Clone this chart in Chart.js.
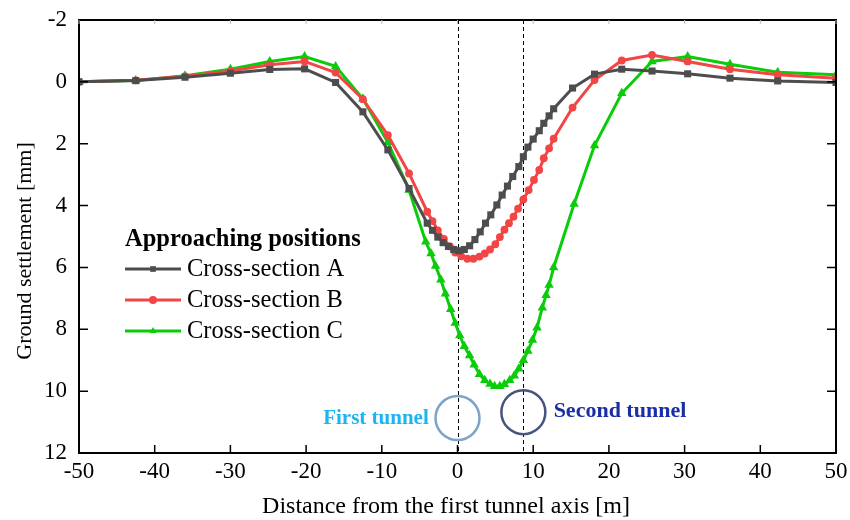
<!DOCTYPE html>
<html lang="en">
<head>
    <meta charset="UTF-8">
    <title>Ground settlement</title>
    <script src="https://cdn.jsdelivr.net/npm/chart.js@4.4.1/dist/chart.umd.min.js"></script>
    <style>
        body { margin: 0; background: #fff; }
        #wrap { width: 850px; height: 520px; }
    </style>
</head>
<body>
    <div id="wrap"><canvas id="settleChart" width="850" height="520"></canvas></div>

    <script>
        // distance from first tunnel axis [m] and settlement [mm] per cross-section
        const xA = [-50, -42.5, -36, -30, -24.8, -20.2, -16.1, -12.5, -9.2, -6.4, -4.0, -3.3, -2.6, -1.9, -1.2, -0.5, 0.2, 0.9, 1.6, 2.3, 3.0, 3.7, 4.4, 5.2, 5.9, 6.6, 7.3, 8.1, 8.7, 9.3, 10.0, 10.8, 11.4, 12.1, 12.7, 15.2, 18.1, 21.7, 25.7, 30.4, 36, 42.3, 50];
        const yA = [0.0, -0.04, -0.15, -0.28, -0.4, -0.42, 0.02, 0.97, 2.2, 3.45, 4.57, 4.8, 5.02, 5.2, 5.32, 5.42, 5.46, 5.42, 5.3, 5.1, 4.85, 4.57, 4.3, 3.98, 3.66, 3.37, 3.06, 2.74, 2.42, 2.11, 1.85, 1.58, 1.34, 1.1, 0.87, 0.2, -0.25, -0.41, -0.35, -0.26, -0.12, -0.03, 0.02];

        const xB = [-50, -42.5, -36, -30, -24.8, -20.2, -16.1, -12.5, -9.2, -6.4, -4.0, -3.3, -2.6, -1.8, -1.0, -0.3, 0.5, 1.3, 2.1, 2.9, 3.6, 4.3, 5.0, 5.6, 6.2, 6.8, 7.4, 8.0, 8.7, 9.4, 10.1, 10.8, 11.4, 12.1, 12.7, 15.2, 18.1, 21.7, 25.7, 30.4, 36, 42.3, 50];
        const yB = [0.0, -0.05, -0.18, -0.35, -0.55, -0.66, -0.3, 0.56, 1.72, 2.96, 4.2, 4.5, 4.8, 5.08, 5.32, 5.52, 5.64, 5.72, 5.72, 5.65, 5.55, 5.42, 5.25, 5.02, 4.78, 4.57, 4.36, 4.1, 3.8, 3.5, 3.17, 2.85, 2.47, 2.15, 1.84, 0.83, -0.06, -0.69, -0.87, -0.66, -0.41, -0.23, -0.12];

        const xC = [-50, -42.5, -36, -30, -24.8, -20.2, -16.1, -12.5, -9.2, -6.4, -4.2, -3.5, -2.9, -2.2, -1.6, -0.9, -0.3, 0.3, 0.9, 1.6, 2.2, 2.9, 3.6, 4.3, 4.9, 5.6, 6.2, 6.9, 7.5, 8.1, 8.7, 9.3, 9.9, 10.5, 11.2, 11.7, 12.1, 12.7, 15.4, 18.1, 21.7, 25.7, 30.4, 36, 42.3, 50];
        const yC = [0.0, -0.04, -0.2, -0.41, -0.66, -0.82, -0.5, 0.55, 1.95, 3.5, 5.17, 5.55, 5.95, 6.4, 6.85, 7.35, 7.8, 8.2, 8.55, 8.85, 9.15, 9.45, 9.65, 9.77, 9.84, 9.84, 9.78, 9.65, 9.5, 9.28, 9.0, 8.7, 8.35, 7.95, 7.3, 6.9, 6.57, 6.0, 3.95, 2.06, 0.37, -0.66, -0.82, -0.57, -0.31, -0.23];

        const seriesNames = ['Cross-section A', 'Cross-section B', 'Cross-section C'];
        const seriesColors = ['#4d4d4d', '#f24545', '#0acc0a'];
        const xTicks = [-50, -40, -30, -20, -10, 0, 10, 20, 30, 40, 50];
        const yTicks = [-2, 0, 2, 4, 6, 8, 10, 12];
        const tunnelAxes = [0, 8.7];

        const serif = '"Liberation Serif", "DejaVu Serif", serif';

        function toPoints(xs, ys) {
            return xs.map((x, i) => ({ x: x, y: ys[i] }));
        }

        // frame, inward ticks, axis titles, tunnel axes, circles and legend
        const decor = {
            id: 'decor',
            beforeDatasetsDraw(chart) {
                const { ctx, chartArea: a, scales: { x } } = chart;
                ctx.save();
                ctx.strokeStyle = '#000';
                ctx.lineWidth = 1;
                ctx.setLineDash([4, 3]);
                tunnelAxes.forEach(v => {
                    const px = Math.round(x.getPixelForValue(v)) + 0.5;
                    ctx.beginPath();
                    ctx.moveTo(px, a.top);
                    ctx.lineTo(px, a.bottom);
                    ctx.stroke();
                });
                ctx.restore();
            },
            afterDatasetsDraw(chart) {
                const { ctx, chartArea: a, scales: { x, y } } = chart;
                ctx.save();

                // tunnel circles
                ctx.lineWidth = 2.5;
                ctx.strokeStyle = '#7ea3c9';
                ctx.beginPath();
                ctx.arc(x.getPixelForValue(0), y.getPixelForValue(10.87), 22, 0, Math.PI * 2);
                ctx.stroke();
                ctx.strokeStyle = '#47557e';
                ctx.beginPath();
                ctx.arc(x.getPixelForValue(8.7), y.getPixelForValue(10.68), 22, 0, Math.PI * 2);
                ctx.stroke();

                ctx.textBaseline = 'middle';
                ctx.font = 'bold 21px ' + serif;
                ctx.fillStyle = '#1cb4f2';
                ctx.textAlign = 'right';
                ctx.fillText('First tunnel', x.getPixelForValue(-3.8), y.getPixelForValue(10.9));
                ctx.font = 'bold 22px ' + serif;
                ctx.fillStyle = '#1a2ea6';
                ctx.textAlign = 'left';
                ctx.fillText('Second tunnel', x.getPixelForValue(12.7), y.getPixelForValue(10.65));

                // frame
                ctx.strokeStyle = '#000';
                ctx.lineWidth = 2;
                ctx.strokeRect(a.left, a.top, a.right - a.left, a.bottom - a.top);

                // inward ticks
                ctx.lineWidth = 1.5;
                ctx.beginPath();
                xTicks.forEach(v => {
                    const px = x.getPixelForValue(v);
                    ctx.moveTo(px, a.bottom);
                    ctx.lineTo(px, a.bottom - 8);
                });
                yTicks.forEach(v => {
                    const py = y.getPixelForValue(v);
                    ctx.moveTo(a.left, py);
                    ctx.lineTo(a.left + 9, py);
                    ctx.moveTo(a.right, py);
                    ctx.lineTo(a.right - 9, py);
                });
                ctx.stroke();
                ctx.strokeStyle = '#bbb';
                ctx.lineWidth = 1;
                ctx.beginPath();
                xTicks.forEach(v => {
                    const px = x.getPixelForValue(v);
                    ctx.moveTo(px, a.top);
                    ctx.lineTo(px, a.top + 4);
                });
                ctx.stroke();

                // axis titles
                ctx.fillStyle = '#000';
                ctx.textAlign = 'center';
                ctx.textBaseline = 'middle';
                ctx.font = '24px ' + serif;
                ctx.fillText('Distance from the first tunnel axis [m]', 446, 507);
                ctx.font = '22px ' + serif;
                ctx.save();
                ctx.translate(25, 251);
                ctx.rotate(-Math.PI / 2);
                ctx.fillText('Ground settlement [mm]', 0, 0);
                ctx.restore();

                // legend
                ctx.textAlign = 'left';
                ctx.font = 'bold 24.5px ' + serif;
                ctx.fillText('Approaching positions', 125, 240);
                ctx.font = '24.5px ' + serif;
                const styles = ['rect', 'circle', 'triangle'];
                seriesNames.forEach((name, i) => {
                    const ly = 269 + i * 31;
                    ctx.strokeStyle = seriesColors[i];
                    ctx.lineWidth = 3;
                    ctx.beginPath();
                    ctx.moveTo(125, ly);
                    ctx.lineTo(181, ly);
                    ctx.stroke();
                    ctx.fillStyle = seriesColors[i];
                    Chart.helpers.drawPoint(ctx, { pointStyle: styles[i], radius: 4, borderWidth: 0 }, 153, ly);
                    ctx.fillStyle = '#000';
                    ctx.fillText(name, 187, ly + 1);
                });

                ctx.restore();
            }
        };

        const makeSet = (i, xs, ys, style, radius) => ({
            label: seriesNames[i],
            data: toPoints(xs, ys),
            showLine: true,
            borderColor: seriesColors[i],
            backgroundColor: seriesColors[i],
            borderWidth: 3,
            pointStyle: style,
            pointRadius: radius,
            pointBorderWidth: 0,
            tension: 0
        });

        const ctx = document.getElementById('settleChart').getContext('2d');
        new Chart(ctx, {
            type: 'scatter',
            data: {
                datasets: [
                    makeSet(0, xA, yA, 'rect', 5),
                    makeSet(1, xB, yB, 'circle', 3.9),
                    makeSet(2, xC, yC, 'triangle', 5.5)
                ]
            },
            options: {
                responsive: false,
                animation: false,
                layout: { padding: { left: 0, top: 20, right: 14, bottom: 0 } },
                plugins: {
                    legend: { display: false },
                    tooltip: { enabled: false }
                },
                scales: {
                    x: {
                        type: 'linear',
                        min: -50,
                        max: 50,
                        afterFit: s => { s.height = 67; s.paddingRight = 0; s.paddingLeft = 0; },
                        afterBuildTicks: s => { s.ticks = xTicks.map(v => ({ value: v })); },
                        grid: { display: false, drawTicks: false },
                        border: { display: false },
                        ticks: { color: '#000', padding: 5, font: { family: serif, size: 23 } }
                    },
                    y: {
                        type: 'linear',
                        reverse: true,
                        min: -2,
                        max: 12,
                        afterFit: s => { s.width = 79; s.paddingTop = 0; s.paddingBottom = 0; },
                        afterBuildTicks: s => { s.ticks = yTicks.map(v => ({ value: v })); },
                        grid: { display: false, drawTicks: false },
                        border: { display: false },
                        ticks: { color: '#000', padding: 12, font: { family: serif, size: 23 } }
                    }
                }
            },
            plugins: [decor]
        });
    </script>
</body>
</html>
